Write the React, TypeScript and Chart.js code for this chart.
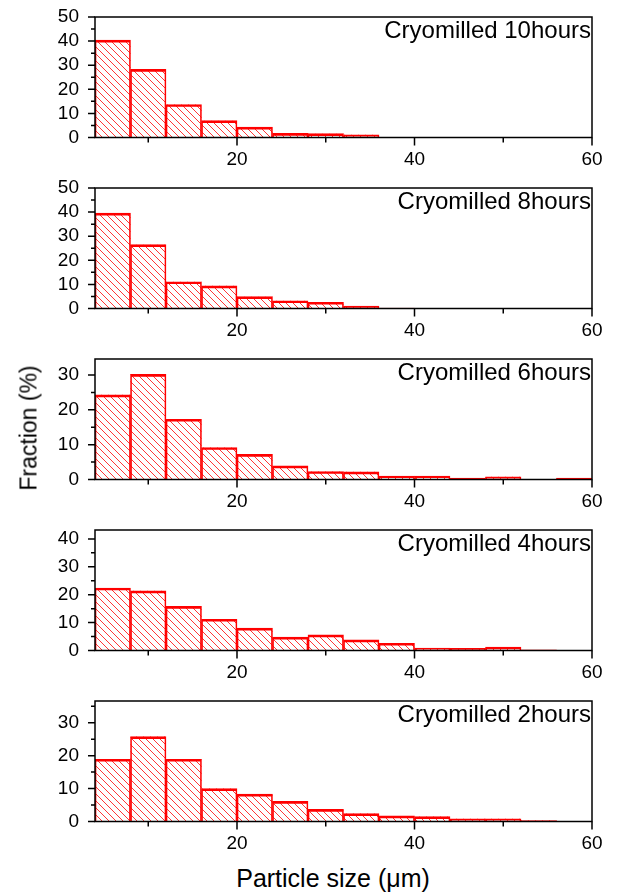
import React, { useEffect, useRef } from 'react';
import { Chart, registerables } from 'chart.js';

Chart.register(...registerables);

// ---- data ----
const binCenters = [6, 10, 14, 18, 22, 26, 30, 34, 38, 42, 46, 50, 54, 58];
const panelLabels = [
  'Cryomilled 10hours',
  'Cryomilled 8hours',
  'Cryomilled 6hours',
  'Cryomilled 4hours',
  'Cryomilled 2hours',
];
const fraction10h = [40.4, 28.3, 13.7, 7.0, 4.3, 1.7, 1.6, 1.1, 0, 0, 0, 0, 0, 0];
const fraction8h = [39.6, 26.5, 11.1, 9.4, 4.9, 3.2, 2.6, 1.0, 0.2, 0, 0, 0, 0, 0];
const fraction6h = [24.3, 30.2, 17.3, 9.2, 7.2, 3.9, 2.3, 2.2, 1.0, 1.0, 0.4, 0.8, 0, 0.4];
const fraction4h = [22.4, 21.4, 15.8, 11.2, 8.0, 4.8, 5.6, 3.8, 2.6, 0.9, 0.8, 1.2, 0.2, 0];
const fraction2h = [18.9, 25.8, 18.9, 10.0, 8.3, 6.1, 3.7, 2.4, 1.7, 1.5, 0.8, 0.8, 0.3, 0];
const panelSeries = [fraction10h, fraction8h, fraction6h, fraction4h, fraction2h];
const yMaxes = [50, 50, 34.6, 43.2, 36.6];
const xMin = 4;
const xMax = 60;
const xMajorTicks = [20, 40, 60];
const xAllTicks = [10, 20, 30, 40, 50, 60];

const FONT = '"Liberation Sans", Arial, Helvetica, sans-serif';
const PANEL_H = 171;

Chart.defaults.font.family = FONT;
Chart.defaults.color = '#000';

const hatchPlugin = {
  id: 'hatch',
  beforeDatasetsDraw(chart: any) {
    const { ctx, chartArea } = chart;
    const meta = chart.getDatasetMeta(0);
    const spacing = 7;
    ctx.save();
    ctx.beginPath();
    ctx.rect(chartArea.left, chartArea.top, chartArea.right - chartArea.left, chartArea.bottom - chartArea.top);
    ctx.clip();
    ctx.strokeStyle = '#ff2020';
    ctx.lineWidth = 0.9;
    meta.data.forEach((bar: any) => {
      const p = bar.getProps(['x', 'y', 'base', 'width'], true);
      const l = p.x - p.width / 2;
      const r = p.x + p.width / 2;
      const t = Math.min(p.y, p.base);
      const b = Math.max(p.y, p.base);
      if (b - t < 0.5) return;
      ctx.save();
      ctx.beginPath();
      ctx.rect(l, t, r - l, b - t);
      ctx.clip();
      ctx.beginPath();
      const cMin = t - r;
      const cMax = b - l;
      let c = Math.floor(cMin / spacing) * spacing;
      for (; c <= cMax; c += spacing) {
        ctx.moveTo(l - 2, l - 2 + c);
        ctx.lineTo(r + 2, r + 2 + c);
      }
      ctx.stroke();
      ctx.restore();
    });
    ctx.restore();
  },
};

const framePlugin = {
  id: 'panelFrame',
  afterDraw(chart: any, _args: any, opts: any) {
    const { ctx, chartArea } = chart;
    const { left, right, top, bottom } = chartArea;
    const x = chart.scales.x;
    const y = chart.scales.y;
    ctx.save();
    ctx.strokeStyle = '#000';
    ctx.lineWidth = 1.5;
    ctx.strokeRect(left, top, right - left, bottom - top);
    ctx.beginPath();
    xAllTicks.forEach((v) => {
      const px = x.getPixelForValue(v);
      const len = v % 20 === 0 ? 8 : 5;
      ctx.moveTo(px, bottom);
      ctx.lineTo(px, bottom + len);
    });
    for (let v = 0; v <= y.max + 1e-6; v += 5) {
      const py = y.getPixelForValue(v);
      const len = v % 10 === 0 ? 7 : 4;
      ctx.moveTo(left, py);
      ctx.lineTo(left - len, py);
    }
    ctx.stroke();
    ctx.fillStyle = '#000';
    ctx.font = `24px ${FONT}`;
    ctx.textAlign = 'right';
    ctx.textBaseline = 'alphabetic';
    ctx.fillText(opts.label || '', right - 1, top + 21);
    ctx.restore();
  },
};

function Panel({ index }: { index: number }) {
  const ref = useRef<HTMLCanvasElement | null>(null);
  useEffect(() => {
    if (!ref.current) return;
    const values = panelSeries[index];
    const yMax = yMaxes[index];
    const chart = new Chart(ref.current, {
      type: 'bar',
      data: {
        datasets: [
          {
            data: binCenters.map((x, i) => ({ x, y: values[i] })),
            backgroundColor: 'rgba(255,255,255,0)',
            borderColor: '#ff0000',
            borderWidth: { top: 2, left: 1, right: 1, bottom: 0 } as any,
            borderSkipped: false,
            barPercentage: 1,
            categoryPercentage: 1,
          } as any,
        ],
      },
      options: {
        responsive: false,
        animation: false,
        layout: { padding: { left: 35, right: 28, top: 17, bottom: 0 } },
        plugins: {
          legend: { display: false },
          tooltip: { enabled: false },
          title: { display: false },
          panelFrame: { label: panelLabels[index] },
        } as any,
        scales: {
          x: {
            type: 'linear',
            min: xMin,
            max: xMax,
            offset: false,
            grid: { display: false },
            border: { display: false },
            afterBuildTicks: (s: any) => {
              s.ticks = xMajorTicks.map((v) => ({ value: v }));
            },
            afterFit: (s: any) => {
              s.height = 33.5;
              s.paddingLeft = 0;
              s.paddingRight = 0;
              s.paddingTop = 0;
              s.paddingBottom = 0;
            },
            ticks: { padding: 3, font: { size: 19 }, color: '#000', maxRotation: 0, autoSkip: false },
          },
          y: {
            type: 'linear',
            min: 0,
            max: yMax,
            grid: { display: false },
            border: { display: false },
            afterBuildTicks: (s: any) => {
              const t = [];
              for (let v = 0; v <= yMax + 1e-6; v += 10) t.push({ value: v });
              s.ticks = t;
            },
            afterFit: (s: any) => {
              s.width = 60;
              s.paddingTop = 0;
              s.paddingBottom = 0;
              s.paddingLeft = 0;
              s.paddingRight = 0;
            },
            ticks: { padding: 8, font: { size: 19 }, color: '#000', autoSkip: false },
          },
        },
      } as any,
      plugins: [hatchPlugin as any, framePlugin as any],
    });
    return () => chart.destroy();
  }, [index]);
  return (
    <canvas
      ref={ref}
      width={620}
      height={PANEL_H}
      style={{ position: 'absolute', left: 0, top: PANEL_H * index, width: 620, height: PANEL_H }}
    />
  );
}

export default function App() {
  return (
    <div
      style={{
        position: 'absolute',
        left: 0,
        top: 0,
        width: 620,
        height: 894,
        background: '#fff',
        overflow: 'hidden',
        fontFamily: FONT,
        color: '#000',
      }}
    >
      {panelLabels.map((_, i) => (
        <Panel key={i} index={i} />
      ))}
      <div
        style={{
          position: 'absolute',
          left: 29,
          top: 428,
          transform: 'translate(-50%, -50%) rotate(-90deg)',
          whiteSpace: 'nowrap',
          fontSize: 23,
          lineHeight: 1,
        }}
      >
        Fraction (%)
      </div>
      <div
        style={{
          position: 'absolute',
          left: 333,
          top: 878,
          transform: 'translate(-50%, -50%)',
          whiteSpace: 'nowrap',
          fontSize: 25,
          lineHeight: 1,
        }}
      >
        Particle size (μm)
      </div>
    </div>
  );
}
